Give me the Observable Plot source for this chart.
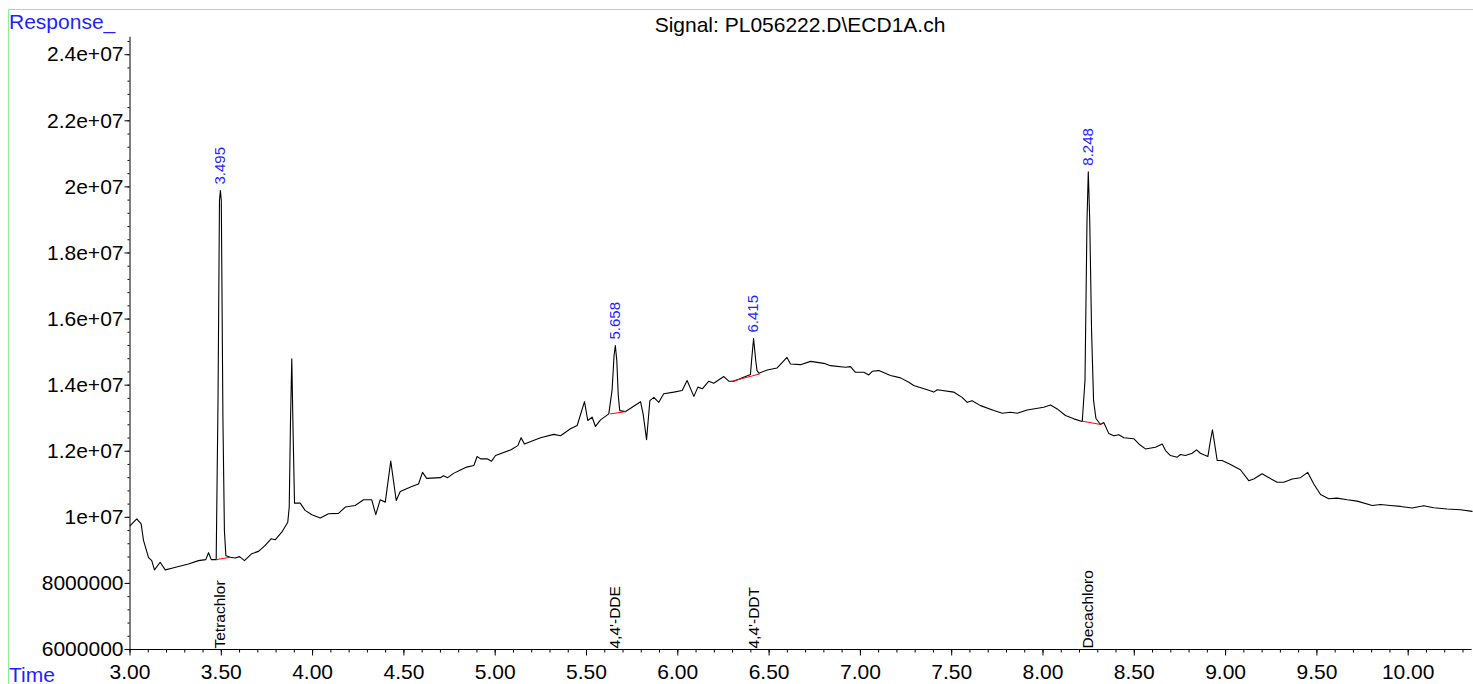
<!DOCTYPE html>
<html>
<head>
<meta charset="utf-8">
<script src="https://cdn.jsdelivr.net/npm/d3@7"></script>
<script src="https://cdn.jsdelivr.net/npm/@observablehq/plot@0.6"></script>
<style>
  html, body { margin: 0; padding: 0; background: white; }
  #chart svg { display: block; }
</style>
</head>
<body>
<div id="chart"></div>
<script>
// ---- Data (retention time in minutes, response in millions of counts) ----
const times = [
  3.001, 3.037, 3.061, 3.074, 3.101, 3.119, 3.134, 3.165, 3.193, 3.229, 3.266, 3.320, 3.375, 3.415, 3.430, 3.445, 3.472,
  3.482, 3.490, 3.495, 3.500, 3.509, 3.517, 3.525, 3.549, 3.576, 3.600, 3.627, 3.667, 3.704, 3.740, 3.773, 3.795, 3.831,
  3.864, 3.872, 3.879, 3.886, 3.893, 3.901, 3.932, 3.959, 3.996, 4.042, 4.087, 4.142, 4.179, 4.233, 4.279, 4.324, 4.346,
  4.370, 4.398, 4.428, 4.458, 4.480, 4.543, 4.580, 4.602, 4.625, 4.699, 4.717, 4.740, 4.772, 4.810, 4.844, 4.883, 4.901,
  4.920, 4.956, 4.980, 5.002, 5.084, 5.124, 5.142, 5.160, 5.248, 5.321, 5.358, 5.412, 5.449, 5.489, 5.507, 5.531, 5.549,
  5.577, 5.622, 5.640, 5.651, 5.658, 5.666, 5.674, 5.682, 5.714, 5.750, 5.796, 5.810, 5.829, 5.847, 5.869, 5.896, 5.923,
  5.978, 6.024, 6.051, 6.088, 6.110, 6.134, 6.170, 6.197, 6.252, 6.279, 6.307, 6.398, 6.404, 6.415, 6.427, 6.434, 6.444,
  6.490, 6.544, 6.598, 6.617, 6.672, 6.727, 6.800, 6.836, 6.918, 6.946, 6.973, 7.019, 7.046, 7.065, 7.101, 7.165, 7.220,
  7.265, 7.292, 7.366, 7.402, 7.421, 7.511, 7.557, 7.585, 7.612, 7.658, 7.731, 7.777, 7.822, 7.859, 7.913, 8.004, 8.041,
  8.078, 8.123, 8.169, 8.215, 8.230, 8.241, 8.248, 8.256, 8.266, 8.277, 8.290, 8.315, 8.333, 8.360, 8.388, 8.415, 8.443,
  8.497, 8.525, 8.561, 8.616, 8.653, 8.671, 8.698, 8.735, 8.753, 8.780, 8.817, 8.841, 8.862, 8.903, 8.917, 8.928, 8.939,
  8.954, 8.981, 9.027, 9.081, 9.127, 9.154, 9.200, 9.228, 9.282, 9.319, 9.365, 9.410, 9.450, 9.483, 9.520, 9.565, 9.611,
  9.666, 9.721, 9.803, 9.848, 9.903, 9.958, 10.022, 10.085, 10.140, 10.213, 10.286, 10.350
];
const responseMillions = [
  9.75, 9.95, 9.80, 9.30, 8.79, 8.69, 8.41, 8.64, 8.41, 8.46, 8.51, 8.59, 8.69, 8.72, 8.93, 8.72, 8.72,
  13.53, 19.59, 19.89, 19.59, 12.93, 9.60, 8.84, 8.79, 8.77, 8.81, 8.69, 8.90, 8.97, 9.15, 9.35, 9.32, 9.55,
  9.85, 10.31, 12.93, 14.80, 12.63, 10.43, 10.43, 10.21, 10.08, 9.98, 10.11, 10.12, 10.31, 10.36, 10.53, 10.53, 10.08,
  10.53, 10.46, 11.70, 10.51, 10.78, 10.93, 11.01, 11.36, 11.18, 11.20, 11.26, 11.20, 11.33, 11.43, 11.52, 11.57, 11.84,
  11.77, 11.77, 11.70, 11.87, 12.04, 12.17, 12.41, 12.22, 12.41, 12.51, 12.47, 12.68, 12.78, 13.50, 12.93, 13.03, 12.75,
  12.95, 13.13, 13.84, 14.90, 15.20, 14.74, 13.69, 13.23, 13.20, 13.33, 13.50, 13.13, 12.35, 13.53, 13.63, 13.48, 13.74,
  13.79, 13.84, 14.14, 13.66, 13.94, 13.89, 14.12, 14.06, 14.26, 14.12, 14.12, 14.32, 14.74, 15.41, 14.74, 14.44, 14.36,
  14.46, 14.52, 14.84, 14.64, 14.62, 14.72, 14.66, 14.59, 14.54, 14.56, 14.39, 14.39, 14.31, 14.42, 14.44, 14.29, 14.22,
  14.09, 13.99, 13.86, 13.79, 13.86, 13.79, 13.63, 13.48, 13.53, 13.38, 13.23, 13.15, 13.18, 13.15, 13.25, 13.33, 13.40,
  13.28, 13.08, 12.98, 12.90, 14.14, 18.98, 20.46, 18.98, 15.65, 13.53, 12.99, 12.81, 12.87, 12.54, 12.47, 12.50, 12.41,
  12.38, 12.22, 12.07, 12.12, 12.22, 12.02, 11.87, 11.82, 11.90, 11.87, 11.94, 12.04, 11.94, 11.84, 12.32, 12.65, 12.26,
  11.72, 11.72, 11.60, 11.44, 11.11, 11.16, 11.32, 11.23, 11.06, 11.06, 11.16, 11.20, 11.36, 11.01, 10.69, 10.56, 10.58,
  10.53, 10.49, 10.36, 10.39, 10.36, 10.33, 10.28, 10.35, 10.29, 10.25, 10.23, 10.18
];

// Integrated peaks
const peakTimes = [3.495, 5.658, 6.415, 8.248];
const peakLabels = ["3.495", "5.658", "6.415", "8.248"];
const peakHeightsMillions = [19.89, 15.20, 15.41, 20.46];
const compoundNames = ["Tetrachlor", "4,4'-DDE", "4,4'-DDT", "Decachloro"];

// Integration baselines (start time, start response, end time, end response)
const baseStartT = [3.472, 5.630, 6.298, 8.215];
const baseStartV = [8.72, 13.13, 14.12, 12.91];
const baseEndT = [3.550, 5.718, 6.449, 8.315];
const baseEndV = [8.79, 13.20, 14.34, 12.81];

// Axis ticks
const xMajorTicks = [3, 3.5, 4, 4.5, 5, 5.5, 6, 6.5, 7, 7.5, 8, 8.5, 9, 9.5, 10];
const yMajorTicks = [6e6, 8e6, 1e7, 1.2e7, 1.4e7, 1.6e7, 1.8e7, 2e7, 2.2e7, 2.4e7];

const titleText = "Signal: PL056222.D\\ECD1A.ch";
const yAxisTitle = "Response_";
const xAxisTitle = "Time";

// ---- Build tables ----
const trace = times.map((t, i) => ({t, v: responseMillions[i] * 1e6}));
const peaks = peakTimes.map((t, i) => ({t, v: peakHeightsMillions[i] * 1e6, label: peakLabels[i], name: compoundNames[i]}));
const baselines = baseStartT.map((t, i) => ({t1: t, v1: baseStartV[i] * 1e6, t2: baseEndT[i], v2: baseEndV[i] * 1e6}));

const xMinorTicks = d3.range(30, 104).map(d => d / 10);
const yMinorTicks = d3.range(15, 62).map(d => d * 4e5);

const fmtY = v => v >= 1e7 ? v.toExponential().replace(/e\+(\d)$/, "e+0$1") : String(v);

const font = "'Liberation Sans', Arial, Helvetica, sans-serif";

const svg = Plot.plot({
  width: 1473,
  height: 684,
  marginLeft: 129.5,
  marginRight: 1.4,
  marginTop: 36.7,
  marginBottom: 35,
  x: {domain: [3, 10.35]},
  y: {domain: [6e6, 24.53e6]},
  style: {fontFamily: font, fontSize: "21px", background: "white", color: "black", overflow: "visible"},
  marks: [
    Plot.ruleX([3], {stroke: "black", strokeWidth: 1}),
    Plot.ruleY([6e6], {stroke: "black", strokeWidth: 1}),
    Plot.axisX(xMinorTicks, {tickSize: 3.5, tickFormat: () => "", label: null}),
    Plot.axisX(xMajorTicks, {tickSize: 6.5, tickPadding: 8.5, tickFormat: d => d.toFixed(2), label: null, fontSize: 21}),
    Plot.axisY(yMinorTicks, {tickSize: 2, tickFormat: () => "", label: null}),
    Plot.axisY(yMajorTicks, {tickSize: 5, tickPadding: 1.5, tickFormat: fmtY, label: null, fontSize: 21}),
    Plot.line(trace, {x: "t", y: "v", stroke: "black", strokeWidth: 1.1, curve: "linear"}),
    Plot.link(baselines, {x1: "t1", y1: "v1", x2: "t2", y2: "v2", stroke: "#ff0000", strokeWidth: 1}),
    Plot.text(peaks, {x: "t", y: "v", text: "label", rotate: -90, textAnchor: "start", lineAnchor: "middle", dy: -6, fill: "#1f1fff", fontSize: 15}),
    Plot.text(peaks, {x: "t", y: () => 6e6, text: "name", rotate: -90, textAnchor: "start", lineAnchor: "middle", dy: -1, fill: "black", fontSize: 15.5})
  ]
});

const s = d3.select(svg);
// light green frame
s.append("line").attr("x1", 8.5).attr("x2", 1473).attr("y1", 9.5).attr("y2", 9.5).attr("stroke", "#90ee90").attr("stroke-width", 1);
s.append("line").attr("x1", 8.5).attr("x2", 8.5).attr("y1", 9.5).attr("y2", 684).attr("stroke", "#90ee90").attr("stroke-width", 1);
s.append("text").text(yAxisTitle).attr("x", 9).attr("y", 29).attr("text-anchor", "start").attr("fill", "#1f1fff").attr("font-size", 21).attr("font-family", font);
s.append("text").text(xAxisTitle).attr("x", 9).attr("y", 682).attr("text-anchor", "start").attr("fill", "#1f1fff").attr("font-size", 21).attr("font-family", font);
s.append("text").text(titleText).attr("x", 800).attr("y", 32).attr("text-anchor", "middle").attr("fill", "black").attr("font-size", 21).attr("font-family", font);

document.getElementById("chart").appendChild(svg);
</script>
</body>
</html>
